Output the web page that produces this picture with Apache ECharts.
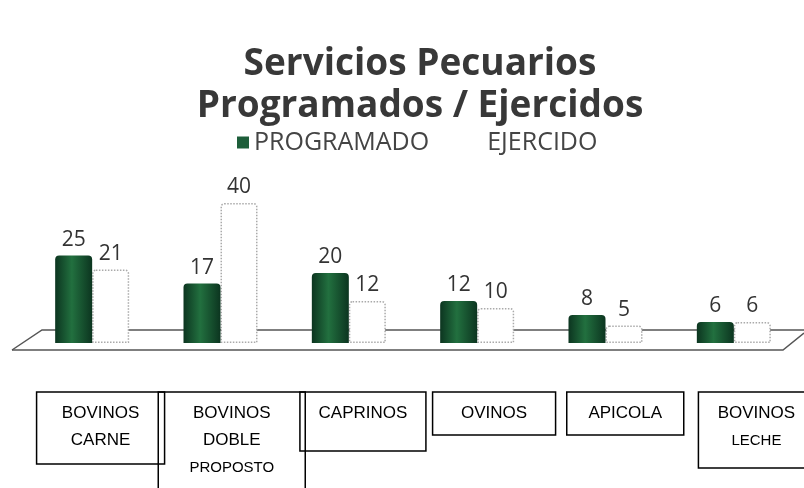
<!DOCTYPE html>
<html>
<head>
<meta charset="utf-8">
<script src="https://cdn.jsdelivr.net/npm/echarts@6/dist/echarts.min.js"></script>
<style>html,body{margin:0;padding:0;background:#fff}#c{width:804px;height:488px}</style>
</head>
<body>
<div id="c"></div>
<script>
const categories = ['BOVINOS\nCARNE', 'BOVINOS\nDOBLE\nPROPOSTO', 'CAPRINOS', 'OVINOS', 'APICOLA', 'BOVINOS\nLECHE'];
const programado = [25, 17, 20, 12, 8, 6];
const ejercido = [21, 40, 12, 10, 5, 6];
const seriesNames = ['PROGRAMADO', 'EJERCIDO'];

// box sizes for category labels (style only)
const boxW = [128, 147, 126, 123, 117, 116];
const boxH = [64, 95, 51, 35, 35, 68];

const labelFont = "'Liberation Sans Narrow', 'Liberation Sans', Arial, sans-serif";

function catItem(name, i) {
  const lines = name.split('\n');
  const val = lines.map((l, k) => (k === 2 || (i === 5 && k === 1)) ? '{s|' + l + '}' : '{a|' + l + '}').join('\n');
  return {
    value: val,
    textStyle: {
      width: boxW[i], height: boxH[i],
      padding: [8, 0, 0, 0],
      borderColor: '#000', borderWidth: 1.5,
      align: 'center', verticalAlign: 'top',
      rich: {
        a: { fontFamily: labelFont, fontSize: 17, color: '#000', lineHeight: 27 },
        s: { fontFamily: labelFont, fontSize: 15, color: '#000', lineHeight: 27 }
      }
    }
  };
}

const chart = echarts.init(document.getElementById('c'), null, { renderer: 'canvas' });
chart.setOption({
  animation: false,
  backgroundColor: '#fff',
  title: {
    text: 'Servicios Pecuarios\nProgramados / Ejercidos',
    left: 415, top: 38, textAlign: 'center',
    textStyle: { fontFamily: "'Open Sans', sans-serif", fontWeight: 'bold', fontSize: 37, lineHeight: 42, color: '#383838' }
  },
  legend: {
    data: [
      { name: seriesNames[0], itemStyle: { color: '#1d5e3a' } },
      { name: seriesNames[1], itemStyle: { color: '#fff', borderWidth: 0 } }
    ],
    left: 232, top: 125, itemWidth: 12, itemHeight: 12, itemGap: 41, icon: 'rect',
    textStyle: { fontFamily: "'Open Sans', sans-serif", fontSize: 25, color: '#444' }
  },
  grid: [
    { left: 28, right: 6, top: 203, bottom: 145, outerBoundsMode: 'none' },
    { left: 35, width: 787, top: 203, bottom: 96, outerBoundsMode: 'none' }
  ],
  xAxis: [
    { type: 'category', gridIndex: 0, data: categories, axisLine: { show: false }, axisTick: { show: false }, axisLabel: { show: false } },
    { type: 'category', gridIndex: 1, data: categories.map(catItem), axisLine: { show: false }, axisTick: { show: false },
      axisLabel: { show: true, interval: 0, margin: 0 } }
  ],
  yAxis: [
    { type: 'value', gridIndex: 0, min: 0, max: 40, show: false },
    { type: 'value', gridIndex: 1, min: 0, max: 40, show: false }
  ],
  graphic: [
    { type: 'polyline', z: 0, shape: { points: [[12, 350], [42, 330], [804, 330]] }, style: { stroke: '#555', lineWidth: 1.5, fill: null } },
    { type: 'polyline', z: 0, shape: { points: [[12, 350], [783, 350], [804, 333]] }, style: { stroke: '#555', lineWidth: 1.5, fill: null } }
  ],
  series: [
    {
      name: seriesNames[0], type: 'bar', xAxisIndex: 0, yAxisIndex: 0, data: programado,
      barWidth: 37, barGap: '0%', z: 3,
      itemStyle: {
        borderRadius: [4, 4, 0, 0],
        color: { type: 'linear', x: 0, y: 0, x2: 1, y2: 0, colorStops: [
          { offset: 0, color: '#0c3520' }, { offset: 0.45, color: '#22703f' }, { offset: 1, color: '#0c3520' } ] }
      },
      label: { show: true, position: 'top', distance: 5, fontFamily: "'Open Sans', sans-serif", fontSize: 21, color: '#333' }
    },
    {
      name: seriesNames[1], type: 'bar', xAxisIndex: 0, yAxisIndex: 0, data: ejercido,
      barWidth: 37, z: 2,
      itemStyle: { color: '#fff', borderColor: '#aaa', borderWidth: 1.5, borderType: 'dotted', borderRadius: [3, 3, 0, 0] },
      label: { show: true, position: 'top', distance: 5, fontFamily: "'Open Sans', sans-serif", fontSize: 21, color: '#333' }
    }
  ]
});
</script>
</body>
</html>
